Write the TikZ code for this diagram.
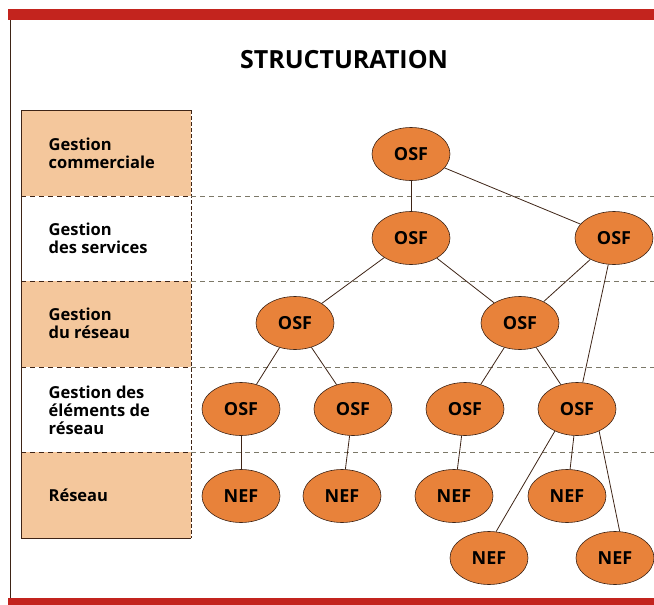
\documentclass[tikz,border=0pt]{standalone}
\usepackage{fontspec}
\setmainfont{Open Sans}
\usetikzlibrary{shapes.geometric}

\definecolor{barred}{HTML}{C3241E}
\definecolor{bandfill}{HTML}{F4C79C}
\definecolor{osforange}{HTML}{E8823A}
\definecolor{rimbrown}{HTML}{3E2416}
\definecolor{dashgray}{HTML}{7C7868}

\begin{document}
\begin{tikzpicture}[
    x = 1pt, y = -1pt, % pixel-like units, y downwards
    font = \bfseries,
    semithick % line style
    ]

    \tikzset{
    fn/.style = {
        ellipse,
        draw = rimbrown,
        fill = osforange,
        minimum width = 78pt,
        minimum height = 53pt,
        inner sep = 0pt,
        font = \fontsize{18}{20}\selectfont\bfseries
        },
    layer/.style = {
        anchor = west,
        align = left,
        font = \fontsize{16.5}{18}\selectfont\bfseries
        },
    link/.style = {draw = rimbrown, line width = 0.8pt},
    sep/.style = {dashgray, dashed, dash pattern = on 5pt off 4pt, thin}
    }

    \useasboundingbox (0,0) rectangle (654,605);

    % frame
    \fill[barred] (8,9) rectangle (654,20);
    \fill[barred] (8,598) rectangle (654,605);
    \draw[rimbrown, line width = 0.9pt] (10,20) -- (10,598);
    \node (title) at (344,60) {\fontsize{25}{28}\selectfont STRUCTURATION};

    % layer column
    \fill[bandfill] (21,110) rectangle (191,196);
    \fill[bandfill] (21,281) rectangle (191,367);
    \fill[bandfill] (21,452) rectangle (191,538);
    \draw[rimbrown, line width = 0.9pt] (191,110) -- (21,110) -- (21,538) -- (191,538);
    \draw[rimbrown, line width = 0.9pt, dashed, dash pattern = on 4pt off 2pt] (191,110) -- (191,538);
    \foreach \yy in {196,281,367,452} {
        \draw[rimbrown, dashed, dash pattern = on 5pt off 4pt, thin] (21,\yy) -- (191,\yy);
        \draw[sep] (191,\yy) -- (654,\yy);
    }

    \node[layer] (l1) at (45,153) {Gestion\\commerciale};
    \node[layer] (l2) at (45,238) {Gestion\\des services};
    \node[layer] (l3) at (45,323) {Gestion\\du réseau};
    \node[layer] (l4) at (45,410) {Gestion des\\éléments de\\réseau};
    \node[layer] (l5) at (45,495) {Réseau};

    % OSF hierarchy
    \node[fn] (o1)  at (411,154) {OSF};
    \node[fn] (o2a) at (411,238) {OSF};
    \node[fn] (o2b) at (614,238) {OSF};
    \node[fn] (o3a) at (295,323) {OSF};
    \node[fn] (o3b) at (520,323) {OSF};
    \node[fn] (o4a) at (241,409) {OSF};
    \node[fn] (o4b) at (353,409) {OSF};
    \node[fn] (o4c) at (465,409) {OSF};
    \node[fn] (o4d) at (577,409) {OSF};

    % NEF
    \node[fn] (n1) at (241,496) {NEF};
    \node[fn] (n2) at (342,496) {NEF};
    \node[fn] (n3) at (454,496) {NEF};
    \node[fn] (n4) at (567,496) {NEF};
    \node[fn] (n5) at (489,558) {NEF};
    \node[fn] (n6) at (615,558) {NEF};

    \path[link] (o1) edge (o2a);
    \path[link] (o1) edge (o2b);
    \path[link] (o2a) edge (o3a);
    \path[link] (o2a) edge (o3b);
    \path[link] (o2b) edge (o3b);
    \path[link] (o2b) edge (o4d);
    \path[link] (o3a) edge (o4a);
    \path[link] (o3a) edge (o4b);
    \path[link] (o3b) edge (o4c);
    \path[link] (o3b) edge (o4d);
    \path[link] (o4a) edge (n1);
    \path[link] (o4b) edge (n2);
    \path[link] (o4c) edge (n3);
    \path[link] (o4d) edge (n4);
    \path[link] (o4d.-135) edge (n5.75);
    \path[link] (o4d.-45) edge (n6.80);
\end{tikzpicture}
\end{document}
